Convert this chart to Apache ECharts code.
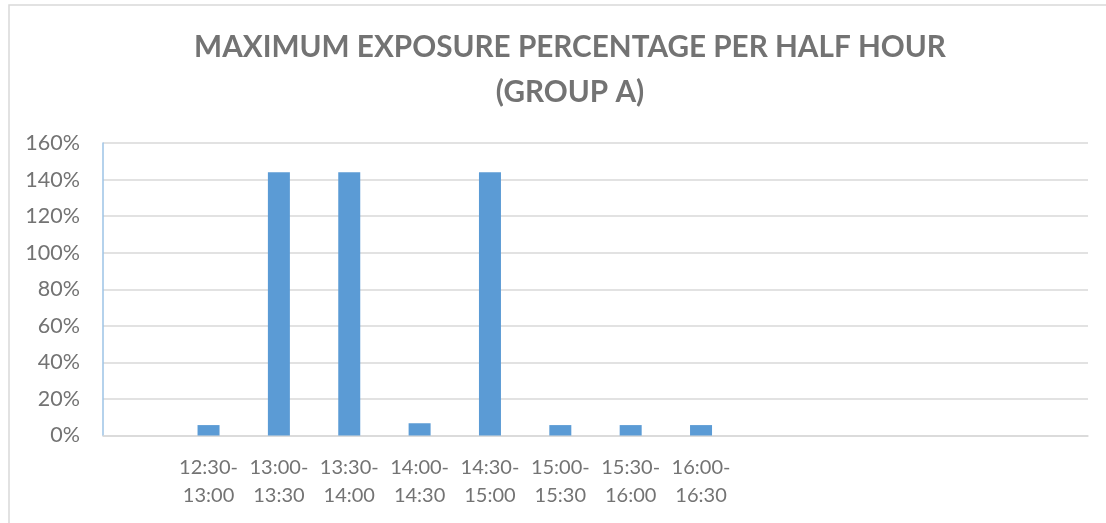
<!DOCTYPE html>
<html>
<head>
<meta charset="utf-8">
<script src="https://cdn.jsdelivr.net/npm/echarts@6/dist/echarts.min.js"></script>
<style>
  html, body { margin: 0; padding: 0; background: #ffffff; }
  #chart { width: 1106px; height: 523px; }
</style>
</head>
<body>
<div id="chart"></div>
<script>
// Half-hour slots along the x axis (empty strings are unused slots)
const categories = [
  '', '12:30-\n13:00', '13:00-\n13:30', '13:30-\n14:00', '14:00-\n14:30',
  '14:30-\n15:00', '15:00-\n15:30', '15:30-\n16:00', '16:00-\n16:30',
  '', '', '', '', ''
];
// Maximum exposure per slot, as a fraction (1.0 = 100%)
const maxExposure = [
  null, 0.057, 1.44, 1.44, 0.067, 1.44, 0.057, 0.057, 0.057,
  null, null, null, null, null
];
// Value axis ticks
const yTicks = [0, 0.2, 0.4, 0.6, 0.8, 1.0, 1.2, 1.4, 1.6];

const textColor = '#737373';
const chart = echarts.init(document.getElementById('chart'), null, { renderer: 'canvas' });

chart.setOption({
  backgroundColor: '#ffffff',
  animation: false,
  title: {
    text: 'MAXIMUM EXPOSURE PERCENTAGE PER HALF HOUR\n(GROUP A)',
    left: 565,
    top: 20,
    textAlign: 'center',
    textStyle: {
      fontFamily: 'Lato',
      fontWeight: 'bold',
      fontSize: 29.7,
      lineHeight: 45,
      color: textColor
    }
  },
  graphic: [{
    type: 'rect',
    shape: { x: 9, y: 5, width: 1200, height: 600 },
    style: { fill: 'none', stroke: '#d9d9d9', lineWidth: 1.5 },
    silent: true
  }],
  grid: { left: 103, right: 18, top: 143, bottom: 87.5, containLabel: false },
  xAxis: {
    type: 'category',
    data: categories,
    axisLine: { lineStyle: { color: '#d9d9d9', width: 1.5 } },
    axisTick: { show: false },
    axisLabel: {
      interval: 0,
      margin: 18,
      fontFamily: 'Lato',
      fontSize: 20,
      lineHeight: 28,
      color: textColor
    }
  },
  yAxis: {
    type: 'value',
    min: yTicks[0],
    max: yTicks[yTicks.length - 1],
    interval: 0.2,
    axisLine: { show: true, lineStyle: { color: '#9dc3e6', width: 1.5 } },
    axisTick: { show: false },
    splitLine: { lineStyle: { color: '#d9d9d9', width: 1.5 } },
    axisLabel: {
      margin: 23,
      fontFamily: 'Lato',
      fontSize: 21.5,
      color: textColor,
      formatter: v => Math.round(v * 100) + '%'
    }
  },
  series: [{
    type: 'bar',
    data: maxExposure,
    barWidth: 22,
    itemStyle: { color: '#5b9bd5' }
  }]
});
</script>
</body>
</html>
